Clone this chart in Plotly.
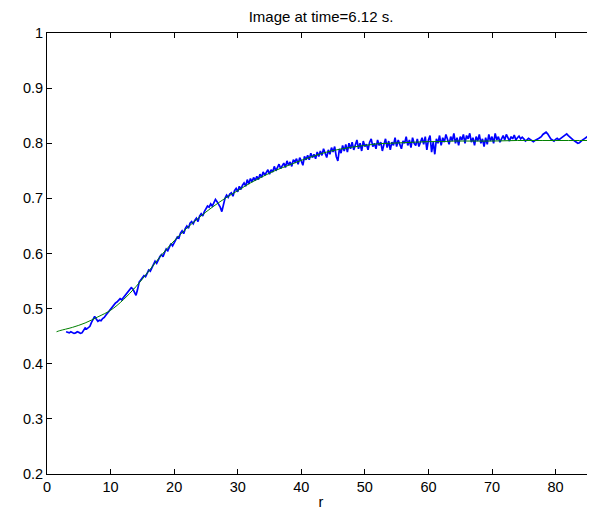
import numpy as np
import plotly.graph_objects as go

# Fitted curve (green)
r_fit = [1.5, 2, 4, 6, 8, 10, 12, 14, 16, 18, 20, 22, 24, 26, 28, 30, 32, 34, 36, 38,
         40, 42, 44, 46, 48, 50, 52, 54, 56, 58, 60, 62, 64, 66, 70, 74, 78, 82, 86.3]
v_fit = [0.458, 0.460, 0.466, 0.474, 0.485, 0.497, 0.516, 0.540, 0.568, 0.597,
         0.623, 0.646, 0.666, 0.684, 0.700, 0.714, 0.728, 0.740, 0.751, 0.760,
         0.769, 0.777, 0.784, 0.789, 0.793, 0.796, 0.799, 0.800, 0.801, 0.802,
         0.803, 0.803, 0.804, 0.804, 0.804, 0.805, 0.805, 0.805, 0.805]

# Measured profile (blue), sampled every 0.25 from r = 3
r_start = 3.0
r_step = 0.25
v_meas = [
    0.458, 0.457, 0.456, 0.458, 0.457, 0.455, 0.456, 0.458,
    0.457, 0.455, 0.456, 0.462, 0.465, 0.463, 0.466, 0.468,
    0.475, 0.482, 0.486, 0.481, 0.477, 0.479, 0.478, 0.482,
    0.484, 0.488, 0.492, 0.495, 0.498, 0.502, 0.506, 0.510,
    0.512, 0.515, 0.518, 0.516, 0.520, 0.522, 0.527, 0.531,
    0.534, 0.538, 0.536, 0.530, 0.524, 0.535, 0.548, 0.552,
    0.556, 0.560, 0.558, 0.566, 0.570, 0.568, 0.574, 0.578,
    0.586, 0.582, 0.590, 0.594, 0.598, 0.594, 0.602, 0.608,
    0.605, 0.612, 0.618, 0.614, 0.620, 0.626, 0.630, 0.628,
    0.637, 0.641, 0.636, 0.645, 0.650, 0.646, 0.655, 0.658,
    0.654, 0.660, 0.664, 0.658, 0.668, 0.672, 0.668, 0.676,
    0.680, 0.686, 0.684, 0.690, 0.686, 0.692, 0.698, 0.694,
    0.690, 0.684, 0.676, 0.690, 0.700, 0.706, 0.702, 0.708,
    0.710, 0.704, 0.714, 0.718, 0.712, 0.722, 0.716, 0.724,
    0.728, 0.722, 0.734, 0.726, 0.736, 0.730, 0.738, 0.732,
    0.740, 0.734, 0.744, 0.738, 0.748, 0.742, 0.746, 0.752,
    0.744, 0.752, 0.748, 0.758, 0.750, 0.756, 0.762, 0.754,
    0.760, 0.764, 0.756, 0.768, 0.760, 0.766, 0.758, 0.770,
    0.766, 0.772, 0.762, 0.774, 0.768, 0.760, 0.776, 0.770,
    0.778, 0.770, 0.782, 0.774, 0.780, 0.772, 0.784, 0.776,
    0.786, 0.778, 0.790, 0.782, 0.774, 0.788, 0.780, 0.792,
    0.784, 0.794, 0.776, 0.768, 0.790, 0.782, 0.796, 0.786,
    0.798, 0.784, 0.800, 0.790, 0.802, 0.788, 0.796, 0.806,
    0.790, 0.800, 0.786, 0.804, 0.794, 0.798, 0.788, 0.802,
    0.808, 0.794, 0.800, 0.790, 0.806, 0.796, 0.802, 0.786,
    0.798, 0.808, 0.792, 0.804, 0.788, 0.802, 0.796, 0.810,
    0.794, 0.806, 0.798, 0.790, 0.804, 0.800, 0.812, 0.796,
    0.806, 0.792, 0.810, 0.800, 0.796, 0.808, 0.794, 0.804,
    0.810, 0.798, 0.812, 0.788, 0.806, 0.814, 0.784, 0.802,
    0.780, 0.808, 0.800, 0.814, 0.796, 0.810, 0.802, 0.816,
    0.806, 0.798, 0.812, 0.804, 0.818, 0.800, 0.810, 0.796,
    0.812, 0.806, 0.816, 0.800, 0.814, 0.808, 0.818, 0.802,
    0.810, 0.796, 0.812, 0.804, 0.816, 0.800, 0.808, 0.794,
    0.810, 0.798, 0.816, 0.804, 0.812, 0.800, 0.818, 0.806,
    0.812, 0.802, 0.808, 0.814, 0.806, 0.816, 0.810, 0.804,
    0.812, 0.808, 0.815, 0.806, 0.810, 0.813, 0.808, 0.811,
    0.808, 0.804, 0.806, 0.809, 0.807, 0.805, 0.803, 0.805,
    0.806, 0.808, 0.810, 0.812, 0.816, 0.818, 0.820, 0.817,
    0.812, 0.808, 0.806, 0.804, 0.807, 0.809, 0.806, 0.808,
    0.810, 0.812, 0.815, 0.817, 0.814, 0.811, 0.808, 0.806,
    0.804, 0.802, 0.800, 0.801, 0.804, 0.806, 0.808, 0.810,
    0.812, 0.811, 0.814, 0.816, 0.815, 0.818, 0.816,
]
r_meas = r_start + r_step * np.arange(len(v_meas))

x_ticks = [0, 10, 20, 30, 40, 50, 60, 70, 80]
y_ticks = [0.2, 0.3, 0.4, 0.5, 0.6, 0.7, 0.8, 0.9, 1]
y_labels = ["0.2", "0.3", "0.4", "0.5", "0.6", "0.7", "0.8", "0.9", "1"]

FONT = "Liberation Sans, Arial, Helvetica, sans-serif"

fig = go.Figure()
fig.add_trace(go.Scatter(x=r_meas, y=v_meas, mode="lines",
                         line=dict(color="rgb(0,0,255)", width=1.7),
                         showlegend=False, hoverinfo="skip"))
fig.add_trace(go.Scatter(x=r_fit, y=v_fit, mode="lines", line_shape="spline",
                         line=dict(color="rgb(0,128,0)", width=1),
                         showlegend=False, hoverinfo="skip"))

# The page body keeps its default 8px margin, so the figure is 8px smaller
fig.update_layout(
    width=587, height=504,
    margin=dict(l=39, r=0, t=25, b=38),
    paper_bgcolor="white", plot_bgcolor="white",
    font=dict(family=FONT, size=14.5, color="black"),
    title=dict(text="Image at time=6.12 s.", x=0.5, xref="paper",
               y=1 - 8.5 / 504, yref="container", yanchor="middle",
               font=dict(family=FONT, size=15, color="black")),
    xaxis=dict(range=[0, 86.2], tickvals=x_ticks, ticks="inside", ticklen=5,
               tickcolor="black", showline=True, linecolor="black", linewidth=1,
               mirror="ticks", showgrid=False, zeroline=False,
               title=dict(text="r", standoff=2, font=dict(size=14.5))),
    yaxis=dict(range=[0.2, 1], tickvals=y_ticks, ticktext=y_labels,
               ticks="inside", ticklen=5, tickcolor="black", showline=True,
               linecolor="black", linewidth=1, mirror=False, showgrid=False,
               zeroline=False),
)

fig.write_html("out.html")
